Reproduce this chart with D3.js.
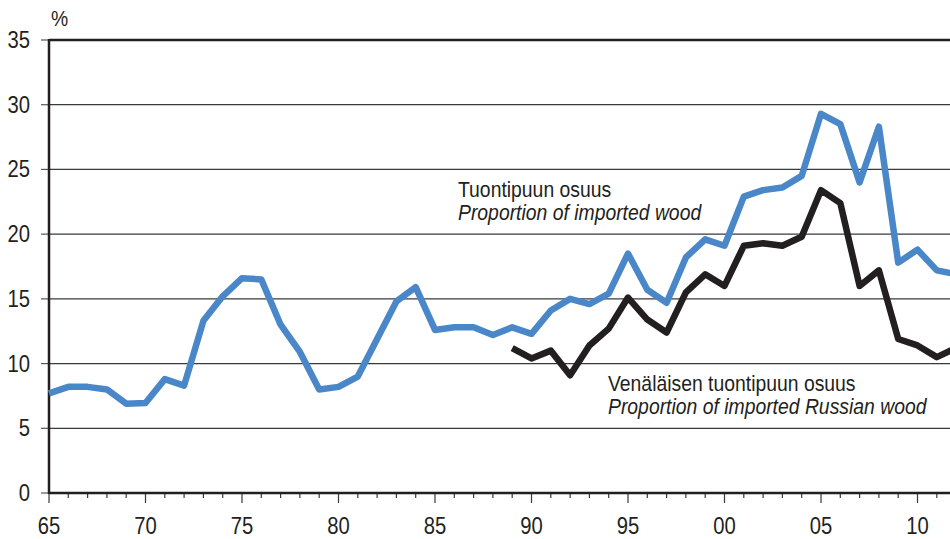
<!DOCTYPE html>
<html>
<head>
<meta charset="utf-8">
<script src="https://cdn.jsdelivr.net/npm/d3@7"></script>
<style>
  body { margin: 0; background: #fff; }
  svg { display: block; font-family: "Liberation Sans", Arial, sans-serif; }
</style>
</head>
<body>
<script>
var width = 950;
var height = 539;

// years 1965..2012
var years = d3.range(1965, 2013);

// Tuontipuun osuus / Proportion of imported wood, %
var importedWood = [
  7.7, 8.2, 8.2, 8.0, 6.9, 6.95, 8.8, 8.3, 13.3, 15.2,
  16.6, 16.5, 13.0, 10.9, 8.0, 8.2, 9.0, 11.9, 14.8, 15.9,
  12.6, 12.8, 12.8, 12.2, 12.8, 12.3, 14.1, 15.0, 14.6, 15.4,
  18.5, 15.7, 14.7, 18.2, 19.6, 19.1, 22.9, 23.4, 23.6, 24.5,
  29.3, 28.5, 24.0, 28.3, 17.8, 18.8, 17.2, 16.9
];

// Venäläisen tuontipuun osuus / Proportion of imported Russian wood, % (from 1989)
var russianYears = d3.range(1989, 2013);
var russianWood = [
  11.2, 10.4, 11.0, 9.1, 11.4, 12.7, 15.1, 13.4, 12.4, 15.5,
  16.9, 16.0, 19.1, 19.3, 19.1, 19.8, 23.4, 22.4, 16.0, 17.2,
  11.9, 11.4, 10.5, 11.2
];

var yTicks = [0, 5, 10, 15, 20, 25, 30, 35];
var xMajor = d3.range(1965, 2012, 5);
var xMinor = d3.range(1965, 2012);

var plotLeft = 49, plotTop = 40, plotBottom = 493;
var squeeze = 0.88; // the original uses a condensed face

var x = d3.scaleLinear().domain([1965, 2010]).range([plotLeft, 917.5]);
var y = d3.scaleLinear().domain([0, 35]).range([plotBottom, plotTop]);

var svg = d3.select("body").append("svg").attr("width", width).attr("height", height);

// gridlines
svg.selectAll("line.grid").data(yTicks.filter(function (d) { return d > 0 && d < 35; }))
  .enter().append("line").attr("class", "grid")
  .attr("x1", plotLeft).attr("x2", width)
  .attr("y1", function (d) { return y(d); }).attr("y2", function (d) { return y(d); })
  .attr("stroke", "#3a3a3a").attr("stroke-width", 1.2);

// y tick marks
svg.selectAll("line.ytick").data(yTicks).enter().append("line").attr("class", "ytick")
  .attr("x1", plotLeft - 8).attr("x2", plotLeft)
  .attr("y1", function (d) { return y(d); }).attr("y2", function (d) { return y(d); })
  .attr("stroke", "#555").attr("stroke-width", 1.2);

// y labels
svg.selectAll("text.ylab").data(yTicks).enter().append("text").attr("class", "ylab")
  .attr("transform", function (d) { return "translate(30," + (y(d) + 8) + ") scale(" + squeeze + ",1)"; })
  .attr("text-anchor", "end").attr("font-size", "23px").attr("fill", "#231f20")
  .text(function (d) { return d; });

svg.append("text").attr("transform", "translate(51,26) scale(" + squeeze + ",1)").attr("font-size", "22px")
  .attr("fill", "#231f20").text("%");

// x ticks
svg.selectAll("line.xminor").data(xMinor).enter().append("line").attr("class", "xminor")
  .attr("x1", function (d) { return x(d); }).attr("x2", function (d) { return x(d); })
  .attr("y1", plotBottom).attr("y2", function (d) { return d % 5 === 0 ? plotBottom + 10 : plotBottom + 5; })
  .attr("stroke", "#3a3a3a").attr("stroke-width", 1.2);

svg.selectAll("text.xlab").data(xMajor).enter().append("text").attr("class", "xlab")
  .attr("transform", function (d) { return "translate(" + x(d) + ",534) scale(" + squeeze + ",1)"; })
  .attr("text-anchor", "middle").attr("font-size", "23px").attr("fill", "#231f20")
  .text(function (d) { return d3.format("02")(d % 100); });

// frame
svg.append("line").attr("x1", plotLeft).attr("x2", width).attr("y1", plotTop).attr("y2", plotTop)
  .attr("stroke", "#231f20").attr("stroke-width", 2.5);
svg.append("line").attr("x1", plotLeft).attr("x2", width).attr("y1", plotBottom).attr("y2", plotBottom)
  .attr("stroke", "#231f20").attr("stroke-width", 2.5);
svg.append("line").attr("x1", plotLeft).attr("x2", plotLeft).attr("y1", plotTop - 1).attr("y2", plotBottom + 1)
  .attr("stroke", "#231f20").attr("stroke-width", 2.5);

var line = d3.line().x(function (d) { return x(d[0]); }).y(function (d) { return y(d[1]); });

svg.append("path").datum(years.map(function (yr, i) { return [yr, importedWood[i]]; }))
  .attr("d", line).attr("fill", "none").attr("stroke", "#4a87c8")
  .attr("stroke-width", 6.5).attr("stroke-linejoin", "round");

svg.append("path").datum(russianYears.map(function (yr, i) { return [yr, russianWood[i]]; }))
  .attr("d", line).attr("fill", "none").attr("stroke", "#231f20")
  .attr("stroke-width", 6.5).attr("stroke-linejoin", "round");

// labels
function label(xp, yp, l1, l2) {
  var t = svg.append("text").attr("transform", "translate(" + xp + "," + yp + ") scale(" + squeeze + ",1)")
    .attr("font-size", "22px").attr("fill", "#231f20");
  t.append("tspan").attr("x", 0).text(l1);
  t.append("tspan").attr("x", 0).attr("dy", 23).attr("font-style", "italic").text(l2);
}
label(458, 197, "Tuontipuun osuus", "Proportion of imported wood");
label(608, 391, "Venäläisen tuontipuun osuus", "Proportion of imported Russian wood");
</script>
</body>
</html>
